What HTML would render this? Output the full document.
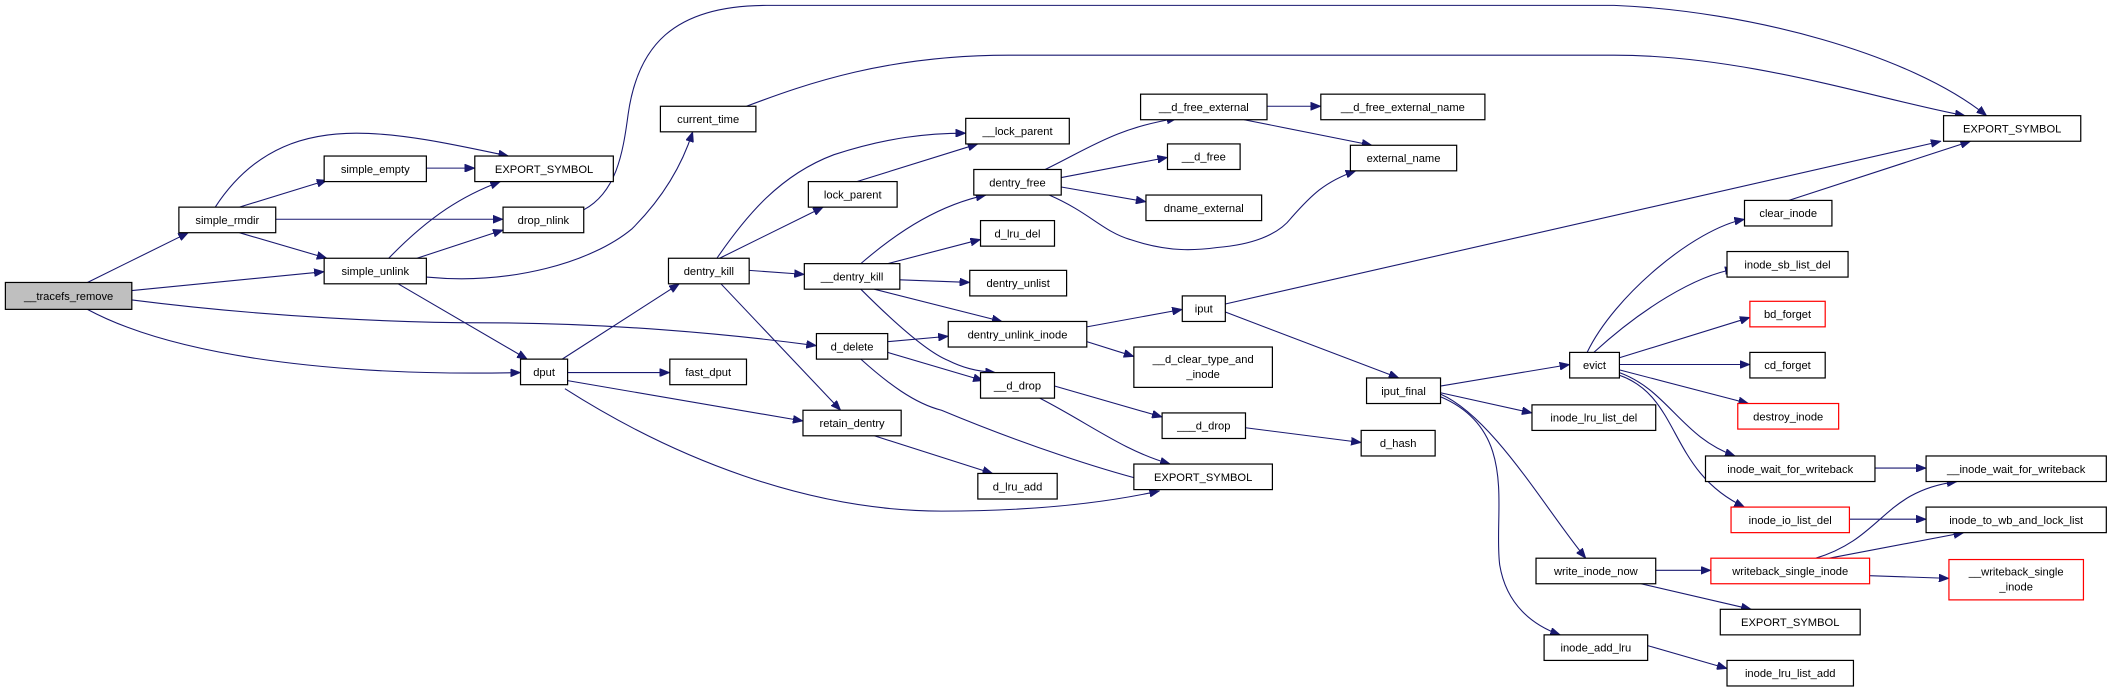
<!DOCTYPE html>
<html><head><meta charset="utf-8"><style>
html,body{margin:0;padding:0;background:#fff;}
svg{display:block;}
text{font-family:"Liberation Sans",sans-serif;font-size:8.3px;fill:#000;text-anchor:middle;}
.e{fill:none;stroke:#191970;stroke-width:0.8;marker-end:url(#a);}
.n{fill:#fff;stroke:#000;stroke-width:0.9;}
.r{fill:#fff;stroke:#ff0000;stroke-width:0.9;}
</style></head><body>
<svg width="2109" height="688" viewBox="0 0 1568 511.5" xmlns="http://www.w3.org/2000/svg">
<defs><marker id="a" markerUnits="userSpaceOnUse" markerWidth="8" markerHeight="6" refX="7.5" refY="3" orient="auto"><path d="M0,0 L7.5,3 L0,6 z" fill="#191970" stroke="#191970" stroke-width="0.5"/></marker></defs>
<g>
<path class="e" d="M65,210 L140,173"/>
<path class="e" d="M98,216 L241,202"/>
<path class="e" d="M98,223 C200,236 300,240 360,240 C450,240 540,248 607,257"/>
<path class="e" d="M65,230 C130,265 250,280 387,277"/>
<path class="e" d="M178,154 L243,134"/>
<path class="e" d="M160,154 C190,108 230,99 265,99 C300,99 340,108 378,116"/>
<path class="e" d="M205,163 L374,163"/>
<path class="e" d="M178,173 L243,192"/>
<path class="e" d="M317,125 L353,125"/>
<path class="e" d="M289,192 C320,160 345,145 372,135"/>
<path class="e" d="M310,192 L374,171"/>
<path class="e" d="M317,206 C380,212 440,195 470,170 C495,145 508,120 515,98"/>
<path class="e" d="M296,211 L392,267"/>
<path class="e" d="M434,156 C458,143 463,115 467,85 C474,35 500,4 570,4 L1200,4 C1300,8 1420,40 1477,86"/>
<path class="e" d="M555,79 C600,62 660,41 750,41 L1200,41 C1300,41 1400,75 1461,86"/>
<path class="e" d="M418,267 L505,211"/>
<path class="e" d="M422,277 L498,277"/>
<path class="e" d="M422,283 L597,313"/>
<path class="e" d="M420,289 C500,340 600,380 700,380 C780,380 830,372 862,365"/>
<path class="e" d="M533,192 C555,160 580,130 620,115 C660,102 690,99 718,99"/>
<path class="e" d="M535,192 L612,154"/>
<path class="e" d="M557,201 L598,204"/>
<path class="e" d="M536,211 L625,305"/>
<path class="e" d="M637,135 L727,107"/>
<path class="e" d="M640,196 C670,170 700,152 733,145"/>
<path class="e" d="M660,196 L729,178"/>
<path class="e" d="M669,208 L721,210"/>
<path class="e" d="M650,215 L745,239"/>
<path class="e" d="M640,215 C665,240 690,262 705,268 C715,273 725,276 740,277"/>
<path class="e" d="M660,254 L705,250"/>
<path class="e" d="M660,262 L731,283"/>
<path class="e" d="M640,267 C660,285 680,300 700,305 C760,330 820,350 862,360"/>
<path class="e" d="M650,324 L738,352"/>
<path class="e" d="M777,126 C810,110 830,95 875,88"/>
<path class="e" d="M789,132 L868,117"/>
<path class="e" d="M789,139 L852,150"/>
<path class="e" d="M780,145 C810,158 820,172 840,178 C870,188 890,186 905,184 C930,182 950,175 960,162 C975,145 985,135 1008,127"/>
<path class="e" d="M942,79 L982,79"/>
<path class="e" d="M925,89 L1020,108"/>
<path class="e" d="M808,243 L879,230"/>
<path class="e" d="M808,254 L843,265"/>
<path class="e" d="M784,287 L864,310"/>
<path class="e" d="M773,296 C810,315 835,335 870,345"/>
<path class="e" d="M926,318 L1012,329"/>
<path class="e" d="M911,226 L1443,105"/>
<path class="e" d="M911,232 L1040,281"/>
<path class="e" d="M1071,287 L1167,271"/>
<path class="e" d="M1071,292 L1139,307"/>
<path class="e" d="M1071,293 C1110,310 1150,380 1179,415"/>
<path class="e" d="M1071,295 C1130,320 1110,380 1115,420 C1120,450 1140,465 1160,472"/>
<path class="e" d="M1180,262 C1200,220 1260,170 1297,163"/>
<path class="e" d="M1185,262 C1220,230 1260,205 1290,200"/>
<path class="e" d="M1204,266 L1301,236"/>
<path class="e" d="M1204,271 L1301,271"/>
<path class="e" d="M1204,275 L1300,300"/>
<path class="e" d="M1204,277 C1240,290 1250,325 1290,339"/>
<path class="e" d="M1204,279 C1250,295 1240,350 1297,377"/>
<path class="e" d="M1330,149 L1465,105"/>
<path class="e" d="M1394,348 L1432,348"/>
<path class="e" d="M1375,386 L1432,386"/>
<path class="e" d="M1231,424 L1272,424"/>
<path class="e" d="M1220,434 L1302,453"/>
<path class="e" d="M1350,415 C1400,400 1400,365 1455,358"/>
<path class="e" d="M1360,415 L1460,396"/>
<path class="e" d="M1390,428 L1449,430"/>
<path class="e" d="M1225,480 L1284,497"/>
</g>
<g>
<rect x="4" y="210" width="94" height="20" fill="#bfbfbf" stroke="#000" stroke-width="0.9"/><text x="51" y="223">__tracefs_remove</text>
<rect class="n" x="133" y="154" width="72" height="19"/><text x="169" y="166.5">simple_rmdir</text>
<rect class="n" x="241" y="116" width="76" height="19"/><text x="279" y="128.5">simple_empty</text>
<rect class="n" x="353" y="116" width="103" height="19"/><text x="404.5" y="128.5">EXPORT_SYMBOL</text>
<rect class="n" x="374" y="154" width="60" height="19"/><text x="404" y="166.5">drop_nlink</text>
<rect class="n" x="241" y="192" width="76" height="19"/><text x="279" y="204.5">simple_unlink</text>
<rect class="n" x="387" y="267" width="35" height="19"/><text x="404.5" y="279.5">dput</text>
<rect class="n" x="491" y="79" width="71" height="19"/><text x="526.5" y="91.5">current_time</text>
<rect class="n" x="497" y="192" width="60" height="19"/><text x="527" y="204.5">dentry_kill</text>
<rect class="n" x="498" y="267" width="57" height="19"/><text x="526.5" y="279.5">fast_dput</text>
<rect class="n" x="718" y="88" width="77" height="19"/><text x="756.5" y="100.5">__lock_parent</text>
<rect class="n" x="601" y="135" width="66" height="19"/><text x="634" y="147.5">lock_parent</text>
<rect class="n" x="724" y="126" width="65" height="19"/><text x="756.5" y="138.5">dentry_free</text>
<rect class="n" x="848" y="70" width="94" height="19"/><text x="895" y="82.5">__d_free_external</text>
<rect class="n" x="982" y="70" width="122" height="19"/><text x="1043" y="82.5">__d_free_external_name</text>
<rect class="n" x="1004" y="108" width="79" height="19"/><text x="1043.5" y="120.5">external_name</text>
<rect class="n" x="868" y="107" width="54" height="19"/><text x="895" y="119.5">__d_free</text>
<rect class="n" x="852" y="145" width="86" height="19"/><text x="895" y="157.5">dname_external</text>
<rect class="n" x="729" y="164" width="55" height="19"/><text x="756.5" y="176.5">d_lru_del</text>
<rect class="n" x="598" y="196" width="71" height="19"/><text x="633.5" y="208.5">__dentry_kill</text>
<rect class="n" x="721" y="201" width="72" height="19"/><text x="757" y="213.5">dentry_unlist</text>
<rect class="n" x="879" y="220" width="32" height="19"/><text x="895" y="232.5">iput</text>
<rect class="n" x="705" y="239" width="103" height="19"/><text x="756.5" y="251.5">dentry_unlink_inode</text>
<rect class="n" x="607" y="248" width="53" height="19"/><text x="633.5" y="260.5">d_delete</text>
<rect class="n" x="843" y="258" width="103" height="30"/><text x="894.5" y="270">__d_clear_type_and</text><text x="894.5" y="281">_inode</text>
<rect class="n" x="729" y="277" width="55" height="19"/><text x="756.5" y="289.5">__d_drop</text>
<rect class="n" x="864" y="307" width="62" height="19"/><text x="895" y="319.5">___d_drop</text>
<rect class="n" x="597" y="305" width="73" height="19"/><text x="633.5" y="317.5">retain_dentry</text>
<rect class="n" x="843" y="345" width="103" height="19"/><text x="894.5" y="357.5">EXPORT_SYMBOL</text>
<rect class="n" x="727" y="352" width="59" height="19"/><text x="756.5" y="364.5">d_lru_add</text>
<rect class="n" x="1012" y="320" width="55" height="19"/><text x="1039.5" y="332.5">d_hash</text>
<rect class="n" x="1016" y="281" width="55" height="19"/><text x="1043.5" y="293.5">iput_final</text>
<rect class="n" x="1445" y="86" width="102" height="19"/><text x="1496" y="98.5">EXPORT_SYMBOL</text>
<rect class="n" x="1297" y="149" width="65" height="19"/><text x="1329.5" y="161.5">clear_inode</text>
<rect class="n" x="1284" y="187" width="90" height="19"/><text x="1329" y="199.5">inode_sb_list_del</text>
<rect class="r" x="1301" y="224" width="56" height="19"/><text x="1329" y="236.5">bd_forget</text>
<rect class="n" x="1301" y="262" width="56" height="19"/><text x="1329" y="274.5">cd_forget</text>
<rect class="n" x="1167" y="262" width="37" height="19"/><text x="1185.5" y="274.5">evict</text>
<rect class="r" x="1292" y="300" width="75" height="19"/><text x="1329.5" y="312.5">destroy_inode</text>
<rect class="n" x="1139" y="301" width="92" height="19"/><text x="1185" y="313.5">inode_lru_list_del</text>
<rect class="n" x="1268" y="339" width="126" height="19"/><text x="1331" y="351.5">inode_wait_for_writeback</text>
<rect class="n" x="1432" y="339" width="134" height="19"/><text x="1499" y="351.5">__inode_wait_for_writeback</text>
<rect class="r" x="1287" y="377" width="88" height="19"/><text x="1331" y="389.5">inode_io_list_del</text>
<rect class="n" x="1432" y="377" width="134" height="19"/><text x="1499" y="389.5">inode_to_wb_and_lock_list</text>
<rect class="n" x="1142" y="415" width="89" height="19"/><text x="1186.5" y="427.5">write_inode_now</text>
<rect class="r" x="1272" y="415" width="118" height="19"/><text x="1331" y="427.5">writeback_single_inode</text>
<rect class="r" x="1449" y="416" width="100" height="30"/><text x="1499" y="428">__writeback_single</text><text x="1499" y="439">_inode</text>
<rect class="n" x="1279" y="453" width="104" height="19"/><text x="1331" y="465.5">EXPORT_SYMBOL</text>
<rect class="n" x="1148" y="472" width="77" height="19"/><text x="1186.5" y="484.5">inode_add_lru</text>
<rect class="n" x="1284" y="491" width="94" height="19"/><text x="1331" y="503.5">inode_lru_list_add</text>
</g>
</svg>
</body></html>
